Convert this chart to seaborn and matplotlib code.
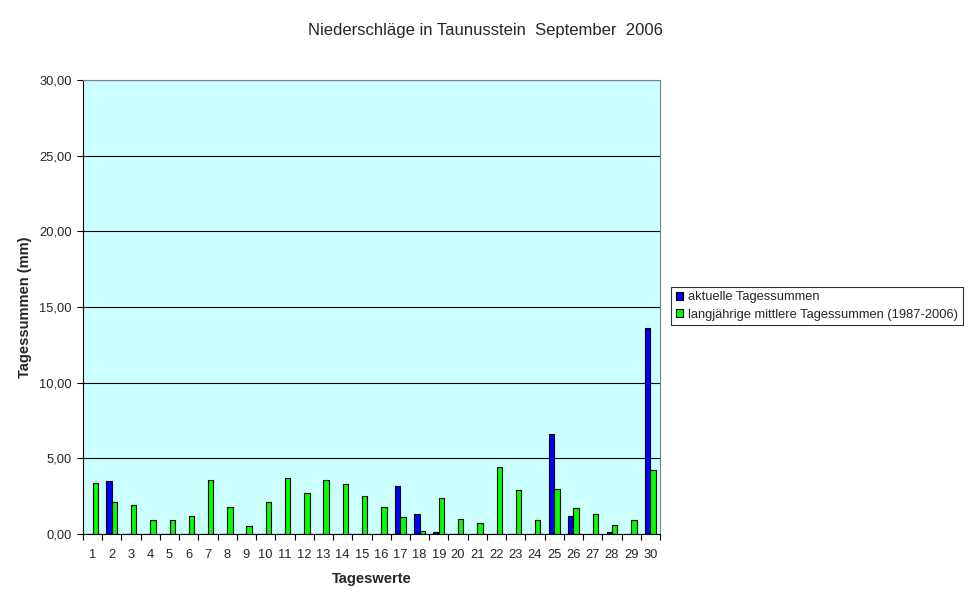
import numpy as np
import pandas as pd
import matplotlib
matplotlib.use("Agg")
import matplotlib.pyplot as plt
import matplotlib.ticker as mticker
from matplotlib.patches import Patch
import seaborn as sns

# Daily values (mm)
days = [str(d) for d in range(1, 31)]
aktuell = [0.0, 3.5, 0.0, 0.0, 0.0, 0.0, 0.0, 0.0, 0.0, 0.0,
           0.0, 0.0, 0.0, 0.0, 0.0, 0.0, 3.2, 1.3, 0.15, 0.0,
           0.0, 0.0, 0.0, 0.0, 6.6, 1.2, 0.0, 0.15, 0.0, 13.6]
mittel = [3.4, 2.1, 1.9, 0.9, 0.9, 1.2, 3.6, 1.8, 0.5, 2.1,
          3.7, 2.7, 3.6, 3.3, 2.5, 1.8, 1.1, 0.2, 2.4, 1.0,
          0.7, 4.4, 2.9, 0.9, 3.0, 1.7, 1.3, 0.6, 0.9, 4.2]
series_names = ["aktuelle Tagessummen",
                "langjährige mittlere Tagessummen (1987-2006)"]
colors = ["#0000FF", "#00FF00"]

df = pd.DataFrame({
    "Tag": days * 2,
    "Serie": [series_names[0]] * 30 + [series_names[1]] * 30,
    "Wert": aktuell + mittel,
})

sns.set_style("white")
plt.rcParams["font.family"] = ["Liberation Sans", "DejaVu Sans"]

fig = plt.figure(figsize=(9.7, 6.04), dpi=100)
ax = fig.add_axes([83 / 970, 1 - 534 / 604, 577 / 970, 454 / 604])
ax.set_facecolor("#CCFFFF")

sns.barplot(data=df, x="Tag", y="Wert", hue="Serie", order=days,
            hue_order=series_names, palette=colors, width=0.56,
            edgecolor="black", linewidth=0.8, saturation=1,
            errorbar=None, legend=False, ax=ax, zorder=3)

ax.set_xlim(-0.5, 29.5)
ax.set_ylim(0, 30)
ax.yaxis.set_major_locator(mticker.MultipleLocator(5))
ax.yaxis.set_major_formatter(mticker.FuncFormatter(lambda v, p: f"{v:.2f}".replace(".", ",")))
ax.grid(axis="y", color="black", linewidth=0.8, zorder=1)
ax.set_axisbelow(True)

ax.xaxis.set_minor_locator(mticker.FixedLocator(np.arange(-0.5, 30, 1)))
ax.tick_params(axis="x", which="major", length=0, pad=11, labelsize=9.3)
ax.tick_params(axis="x", which="minor", length=4, width=0.8, color="black", direction="out")
ax.tick_params(axis="y", which="major", length=4, width=0.8, color="black",
               direction="out", pad=4, labelsize=9.3)
ax.xaxis.set_ticks_position("bottom")
ax.yaxis.set_ticks_position("left")

for side in ["left", "bottom"]:
    ax.spines[side].set_color("black")
    ax.spines[side].set_linewidth(0.8)
for side in ["top", "right"]:
    ax.spines[side].set_color("#808080")
    ax.spines[side].set_linewidth(0.8)

ax.set_xlabel("Tageswerte", fontsize=10.5, fontweight="bold", labelpad=8)
ax.set_ylabel("Tagessummen (mm)", fontsize=10.5, fontweight="bold", labelpad=5)

fig.text(485 / 970, 1 - 31 / 604, "Niederschläge in Taunusstein  September  2006",
         ha="center", va="center", fontsize=12)

handles = [Patch(facecolor=c, edgecolor="black", linewidth=0.8) for c in colors]
leg = fig.legend(handles, series_names, loc="center left",
                 bbox_to_anchor=(671 / 970, 1 - 306 / 604), fontsize=9.3,
                 frameon=True, fancybox=False, edgecolor="black",
                 handlelength=0.6, handleheight=0.6, handletextpad=0.4,
                 borderpad=0.35, labelspacing=0.4, borderaxespad=0)
leg.get_frame().set_linewidth(0.8)

fig.savefig("out.png", dpi=100)
